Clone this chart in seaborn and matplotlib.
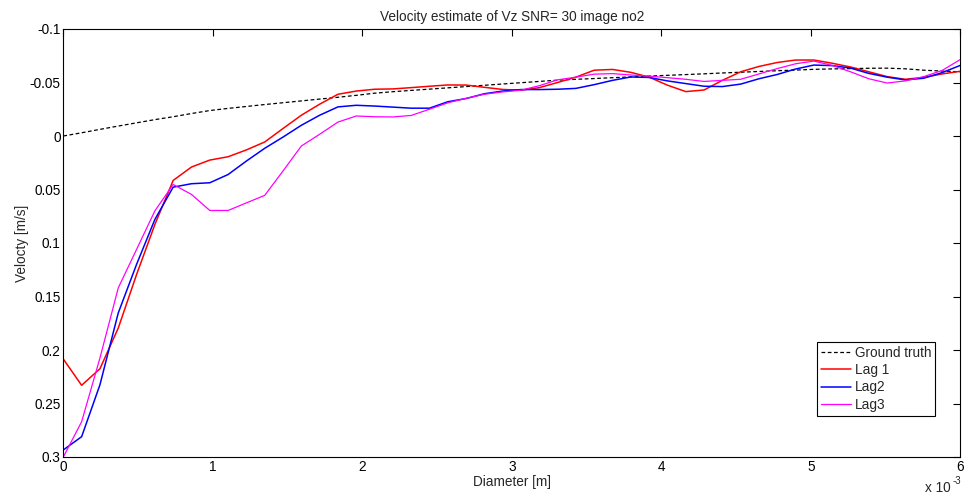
import numpy as np
import pandas as pd
import matplotlib
matplotlib.use("Agg")
import matplotlib.pyplot as plt
import seaborn as sns

# sampling grid (mm -> m)
diameter = np.linspace(0.0, 6.0, 50) * 1e-3

ground_truth = [0.0, -0.003, -0.0062, -0.0093, -0.0123, -0.0153, -0.018, -0.021, -0.0238, -0.0258,
                -0.0276, -0.0294, -0.0311, -0.0328, -0.0345, -0.0362, -0.038, -0.040, -0.0414, -0.0426,
                -0.0438, -0.045, -0.0462, -0.0474, -0.0486, -0.0498, -0.051, -0.0522, -0.053, -0.0537,
                -0.0545, -0.0552, -0.056, -0.0567, -0.0574, -0.0581, -0.0589, -0.0596, -0.0603, -0.061,
                -0.0616, -0.0623, -0.0627, -0.063, -0.0633, -0.0634, -0.0628, -0.0615, -0.0607, -0.060]

lag1 = [0.2085, 0.233, 0.2175, 0.1795, 0.1295, 0.0827, 0.0415, 0.029, 0.0225, 0.0194,
        0.013, 0.0056, -0.007, -0.0194, -0.0297, -0.039, -0.042, -0.0437, -0.044, -0.0452,
        -0.0465, -0.0477, -0.0476, -0.0455, -0.0435, -0.0428, -0.0452, -0.050, -0.055, -0.0615,
        -0.0622, -0.0595, -0.055, -0.0475, -0.0415, -0.043, -0.052, -0.060, -0.065, -0.0687,
        -0.071, -0.071, -0.068, -0.0645, -0.060, -0.0555, -0.053, -0.0548, -0.058, -0.0605]

lag2 = [0.2934, 0.281, 0.2325, 0.1654, 0.120, 0.078, 0.0478, 0.0446, 0.0437, 0.036,
        0.0234, 0.0115, 0.001, -0.010, -0.0194, -0.0272, -0.0287, -0.028, -0.027, -0.026,
        -0.026, -0.032, -0.035, -0.0395, -0.042, -0.0434, -0.0434, -0.0437, -0.0445, -0.048,
        -0.052, -0.0552, -0.0547, -0.0515, -0.049, -0.0465, -0.0462, -0.0485, -0.0535, -0.0575,
        -0.0626, -0.0663, -0.0658, -0.0635, -0.0585, -0.055, -0.0524, -0.054, -0.0592, -0.066]

lag3 = [0.300, 0.267, 0.2075, 0.142, 0.106, 0.070, 0.0453, 0.0546, 0.0696, 0.0696,
        0.0625, 0.0555, 0.0327, 0.0094, -0.0016, -0.013, -0.0187, -0.018, -0.0178, -0.0192,
        -0.025, -0.031, -0.0352, -0.039, -0.0412, -0.0428, -0.047, -0.0525, -0.055, -0.0578,
        -0.0583, -0.057, -0.056, -0.0545, -0.053, -0.051, -0.052, -0.053, -0.058, -0.063,
        -0.0675, -0.070, -0.066, -0.060, -0.0535, -0.0495, -0.0515, -0.0555, -0.0612, -0.0715]

x_ticks = [0, 1e-3, 2e-3, 3e-3, 4e-3, 5e-3, 6e-3]
x_tick_labels = ["0", "1", "2", "3", "4", "5", "6"]
y_ticks = [-0.1, -0.05, 0, 0.05, 0.1, 0.15, 0.2, 0.25, 0.3]
y_tick_labels = ["-0.1", "-0.05", "0", "0.05", "0.1", "0.15", "0.2", "0.25", "0.3"]

FS = 9.8

sns.set_style("white")
plt.rcParams["font.family"] = ["Liberation Sans", "DejaVu Sans"]
plt.rcParams["font.size"] = FS

fig = plt.figure(figsize=(9.64, 5.0), dpi=100)
ax = fig.add_axes([0.0657, 0.086, 0.9305, 0.856])

sns.lineplot(x=diameter, y=ground_truth, ax=ax, color="black", linestyle="--",
             linewidth=0.9, label="Ground truth", errorbar=None)
sns.lineplot(x=diameter, y=lag1, ax=ax, color="#ff0000", linewidth=1.1, label="Lag 1", errorbar=None)
sns.lineplot(x=diameter, y=lag2, ax=ax, color="#0000ff", linewidth=1.1, label="Lag2", errorbar=None)
sns.lineplot(x=diameter, y=lag3, ax=ax, color="#ff00ff", linewidth=0.9, label="Lag3", errorbar=None)
ax.lines[0].set_dashes((3, 2))

ax.set_xlim(0, 6e-3)
ax.set_ylim(0.3, -0.1)
ax.set_xticks(x_ticks)
ax.set_xticklabels(x_tick_labels)
ax.set_yticks(y_ticks)
ax.set_yticklabels(y_tick_labels)
ax.tick_params(direction="in", length=5, width=0.8, top=True, right=True,
               labelsize=FS, colors="black")
ax.tick_params(axis="x", pad=2.5)
ax.tick_params(axis="y", pad=2)
for s in ax.spines.values():
    s.set_visible(True)
    s.set_color("black")
    s.set_linewidth(0.8)

ax.set_title("Velocity estimate of Vz SNR= 30 image no2", fontsize=FS, pad=6)
ax.set_xlabel("Diameter [m]", fontsize=FS, labelpad=0.5)
ax.set_ylabel("Velocty [m/s]", fontsize=FS, labelpad=0.5)

fig.text(0.9595, 0.025, "x 10", fontsize=FS, ha="left", va="center")
fig.text(0.9885, 0.038, "-3", fontsize=7, ha="left", va="center")

leg = ax.legend(loc="lower left", bbox_to_anchor=(0.8405, 0.096), fancybox=False,
                edgecolor="black", framealpha=1, fontsize=FS, handlelength=2.2,
                handletextpad=0.25, labelspacing=0.25, borderpad=0.3, borderaxespad=0)
leg.get_frame().set_linewidth(0.8)

fig.savefig("out.png", dpi=100)
